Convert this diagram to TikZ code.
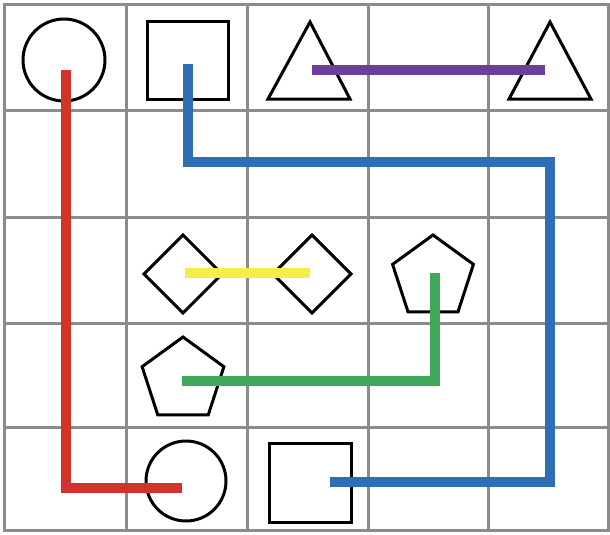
\documentclass[tikz,border=0pt]{standalone}
\usetikzlibrary{shapes.geometric}
\definecolor{gridgray}{HTML}{8C8C8C}
\definecolor{lred}{HTML}{D2342B}
\definecolor{lblue}{HTML}{2F6EB5}
\definecolor{lgreen}{HTML}{3FA85B}
\definecolor{lyellow}{HTML}{F4EE4B}
\definecolor{lpurple}{HTML}{6B3FA0}
\tikzset{
  gridline/.style={draw=gridgray, line width=3pt},
  shapeline/.style={draw=black, line width=3pt, inner sep=0pt, outer sep=0pt},
  roundshape/.style={shapeline, circle},
  boxshape/.style={shapeline, rectangle},
  diashape/.style={shapeline, diamond, minimum width=78pt, minimum height=78pt},
  pentshape/.style={shapeline, regular polygon, regular polygon sides=5},
  conn/.style={line width=10pt, line cap=butt, line join=miter}
}
\begin{document}
\begin{tikzpicture}[x=1pt,y=-1pt]
\useasboundingbox (0,0) rectangle (610,535);
\fill[white] (0,0) rectangle (610,535);
% grid
\draw[gridline] (4,5) rectangle (608,530);
\foreach \gx in {126,247,368,488} \draw[gridline] (\gx,5) -- (\gx,530);
\foreach \gy in {110,217,323,427} \draw[gridline] (4,\gy) -- (608,\gy);
% shapes
\node[roundshape, minimum size=82pt] (circA) at (64,60) {};
\node[boxshape, minimum width=81pt, minimum height=77pt] (sqA) at (187.5,60.5) {};
\draw[line width=3pt, line join=miter] (268,99) coordinate (triAl) -- (310,22) coordinate (triA) -- (350,99) coordinate (triAr) -- cycle;
\draw[line width=3pt, line join=miter] (509,99) coordinate (triBl) -- (550,22) coordinate (triB) -- (591,99) coordinate (triBr) -- cycle;
\node[diashape] (diaA) at (183,274) {};
\node[diashape] (diaB) at (312,274) {};
\node[pentshape, minimum size=85pt] (penA) at (433,277.5) {};
\node[pentshape, minimum size=86pt] (penB) at (183,380) {};
\node[roundshape, minimum size=80pt] (circB) at (186,481) {};
\node[boxshape, minimum width=82pt, minimum height=79pt] (sqB) at (310,482.5) {};
% connector end points and bends
\coordinate (rA) at (66,70);
\coordinate (rB) at (66,488);
\coordinate (rC) at (182,488);
\coordinate (bA) at (188,64);
\coordinate (bB) at (188,162);
\coordinate (bC) at (550,162);
\coordinate (bD) at (550,482);
\coordinate (bE) at (330,482);
\coordinate (pA) at (312,70);
\coordinate (pB) at (545,70);
\coordinate (yA) at (185,273);
\coordinate (yB) at (310,273);
\coordinate (gA) at (435,273);
\coordinate (gB) at (435,381);
\coordinate (gC) at (182,381);
% connectors
\draw[conn, lred] (rA) -- (rB) -- (rC);
\draw[conn, lblue] (bA) -- (bB) -- (bC) -- (bD) -- (bE);
\draw[conn, lpurple] (pA) -- (pB);
\draw[conn, lyellow] (yA) -- (yB);
\draw[conn, lgreen] (gA) -- (gB) -- (gC);
\end{tikzpicture}
\end{document}
